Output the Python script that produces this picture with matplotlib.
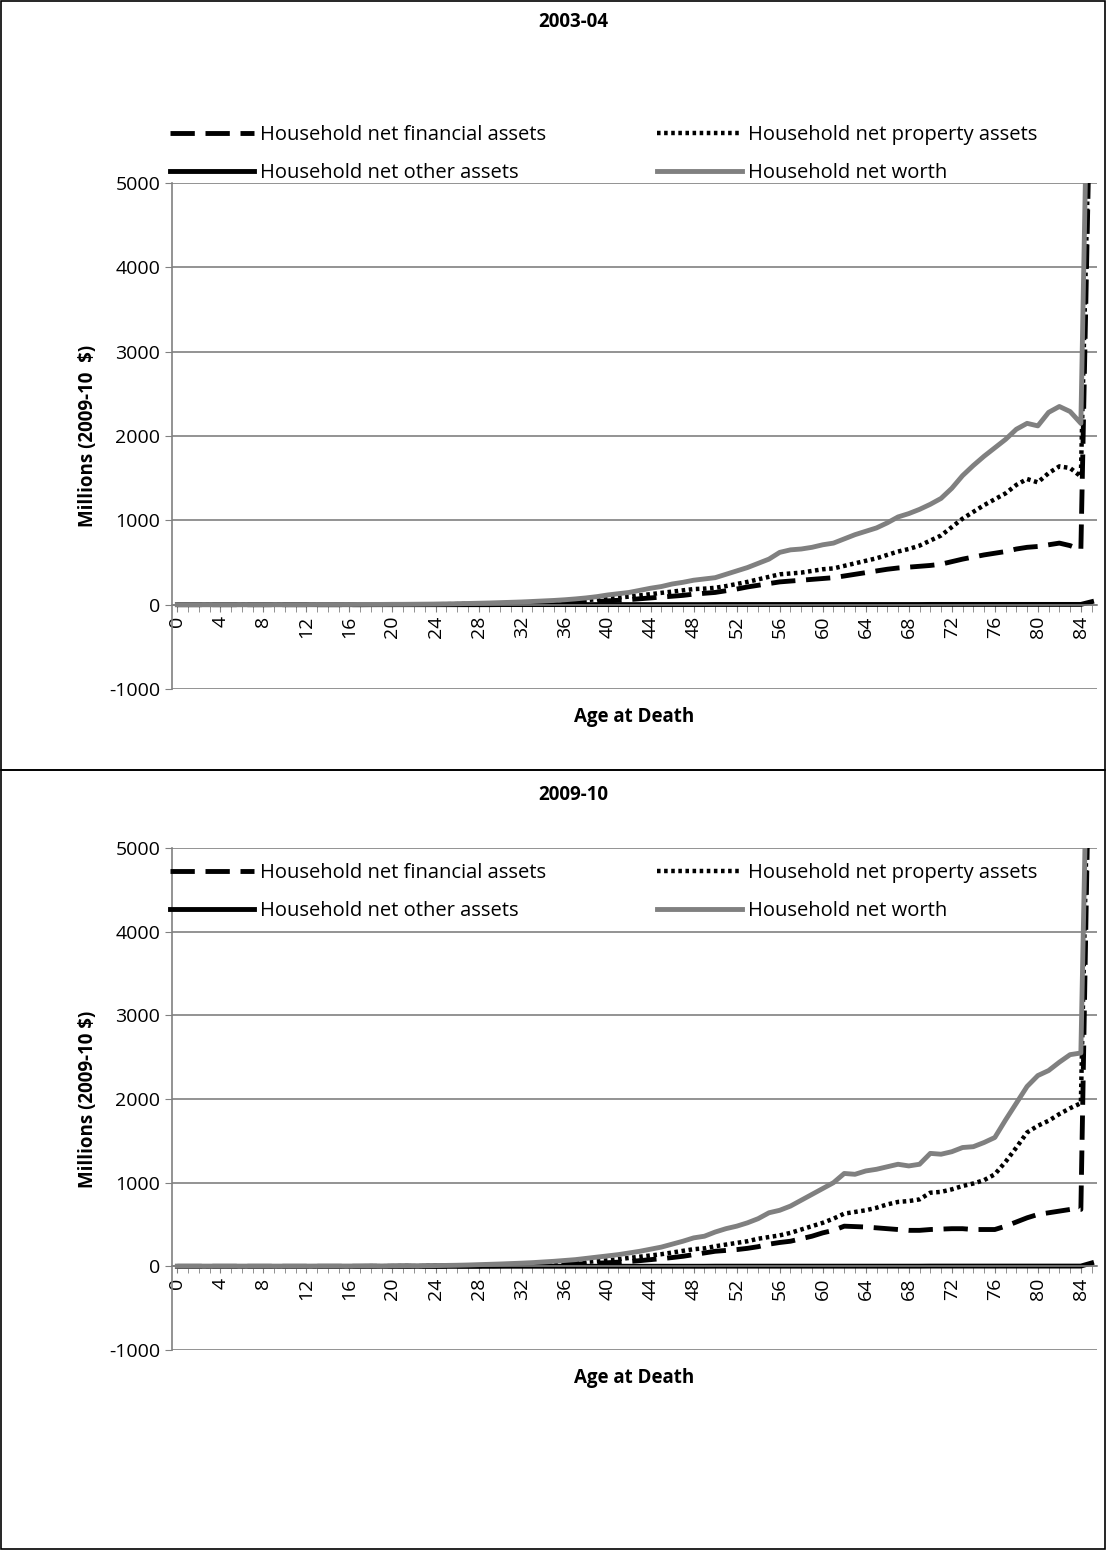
import matplotlib.pyplot as plt
from matplotlib.patches import Rectangle
from matplotlib.ticker import MultipleLocator

plt.rcParams['font.family'] = ['Open Sans', 'DejaVu Sans']
plt.rcParams['axes.unicode_minus'] = False

ages = list(range(86))
tick_labels = [str(a) for a in range(0, 85, 4)]

# 2003-04 values (millions, 2009-10 $)
fin_0304 = [0]*10 + [0, 0, 0, 0, 0, 0, 0, 0, 1, 1,
            1, 2, 2, 2, 3, 3, 4, 5, 6, 7, 8, 10, 12, 14, 17, 20,
            24, 28, 32, 38, 45, 52, 60, 70, 80, 90, 100, 110,
            125, 135, 145, 165, 185, 210, 230, 250, 270, 280, 290, 300,
            310, 320, 340, 360, 380, 400, 420, 435, 445, 455, 465, 480,
            510, 540, 565, 590, 610, 630, 660, 680,
            690, 710, 730, 700, 650, 7000]
prop_0304 = [0]*10 + [0, 0, 0, 1, 1, 1, 1, 1, 2, 2,
             2, 3, 3, 4, 5, 6, 7, 9, 11, 13, 15, 18, 21, 25, 29, 34,
             40, 46, 54, 64, 75, 85, 95, 110, 125, 140, 155, 170,
             185, 190, 200, 220, 245, 270, 300, 330, 360, 370, 380, 400,
             420, 430, 460, 490, 520, 550, 590, 630, 660, 700, 760, 820,
             920, 1020, 1100, 1180, 1250, 1320, 1420, 1490,
             1450, 1560, 1640, 1620, 1520, 7000]
other_0304 = [0]*30 + [1]*20 + [2]*20 + [3]*15 + [35]
nw_0304 = [1]*13 + [2, 2, 2, 2, 3, 3, 3,
           4, 4, 5, 6, 7, 9, 11, 14, 17, 20, 24, 28, 32, 38, 44, 50,
           58, 68, 80, 95, 115, 130, 145, 170, 195, 215, 245, 265,
           290, 305, 320, 360, 400, 440, 490, 540, 620, 650, 660, 680,
           710, 730, 780, 830, 870, 910, 970, 1040, 1080, 1130, 1190, 1260,
           1380, 1530, 1650, 1760, 1860, 1960, 2080, 2150,
           2120, 2280, 2350, 2290, 2150, 9000]

# 2009-10 values
fin_0910 = [0]*10 + [0, 0, 0, 0, 0, 0, 0, 0, 1, 1,
            1, 2, 2, 2, 3, 3, 4, 5, 6, 7, 8, 10, 12, 14, 16, 19,
            23, 27, 32, 37, 43, 50, 58, 68, 80, 92, 105, 120,
            140, 160, 180, 190, 200, 215, 235, 265, 285, 300, 330, 360,
            400, 430, 480, 475, 470, 460, 450, 440, 430, 430, 440, 445,
            450, 450, 440, 440, 440, 480, 530, 580,
            620, 640, 660, 680, 680, 8000]
prop_0910 = [0]*10 + [0, 0, 0, 1, 1, 1, 1, 1, 2, 2,
             2, 3, 3, 4, 5, 6, 7, 8, 9, 10, 12, 15, 18, 22, 26, 31,
             37, 44, 52, 62, 72, 85, 100, 115, 130, 145, 165, 185,
             205, 215, 240, 260, 280, 300, 330, 350, 370, 400, 440, 480,
             520, 570, 630, 650, 670, 700, 740, 770, 780, 800, 880, 890,
             920, 960, 990, 1030, 1100, 1250, 1420, 1600,
             1680, 1740, 1820, 1890, 1950, 8000]
other_0910 = [0]*30 + [1]*20 + [2]*20 + [3]*15 + [40]
nw_0910 = [1]*13 + [2, 2, 2, 2, 3, 3, 3,
           4, 5, 6, 7, 9, 11, 13, 16, 20, 24, 28, 33, 38, 44, 52, 60,
           70, 80, 95, 110, 125, 140, 160, 180, 205, 230, 265, 300,
           340, 360, 410, 450, 480, 520, 570, 640, 670, 720, 790, 860,
           930, 1000, 1110, 1100, 1140, 1160, 1190, 1220, 1200, 1220, 1350, 1340,
           1370, 1420, 1430, 1480, 1540, 1750, 1950, 2150,
           2280, 2340, 2440, 2530, 2550, 9000]

panels = [
    ('2003-04', 'Millions (2009-10  $)', fin_0304, prop_0304, other_0304, nw_0304),
    ('2009-10', 'Millions (2009-10 $)', fin_0910, prop_0910, other_0910, nw_0910),
]

W, H = 1107, 1550
fig = plt.figure(figsize=(W / 100, H / 100), dpi=100)

# panel geometry in pixels: (box top, box bottom, axes top, axes bottom, title y, legend y)
geom = [(1, 770, 183, 689, 22, 154), (770, 1549, 848, 1350, 795, 892)]

gray = '#808080'
fs = 14
for (title, ylab, fin, prop, oth, nw), (bt, bb, at, ab, ty, ly) in zip(panels, geom):
    fig.add_artist(Rectangle((1 / W, 1 - bb / H), (W - 3) / W, (bb - bt) / H,
                             transform=fig.transFigure, fill=False,
                             edgecolor='black', lw=1.2))
    ax = fig.add_axes([172 / W, 1 - ab / H, 925 / W, (ab - at) / H])
    l1, = ax.plot(ages, fin, color='black', lw=3.5, dashes=(5, 2.2),
                  label='Household net financial assets')
    l2, = ax.plot(ages, prop, color='black', lw=3.2, dashes=(0.8, 0.8),
                  label='Household net property assets')
    l3, = ax.plot(ages, oth, color='black', lw=3.5,
                  label='Household net other assets')
    l4, = ax.plot(ages, nw, color=gray, lw=3.5, label='Household net worth')

    for s in ['top', 'right']:
        ax.spines[s].set_visible(False)
    ax.spines['bottom'].set_position(('data', 0))
    ax.spines['bottom'].set_color(gray)
    ax.spines['left'].set_color(gray)
    ax.spines['bottom'].set_linewidth(1.2)
    ax.spines['left'].set_linewidth(1.2)

    ax.set_xlim(-0.5, 85.5)
    ax.set_ylim(-1000, 5000)
    ax.set_yticks(range(-1000, 5001, 1000))
    ax.grid(axis='y', color=gray, lw=1.2)
    ax.set_axisbelow(True)
    ax.set_xticks(range(0, 85, 4))
    ax.set_xticklabels(tick_labels, rotation=90, fontsize=fs)
    ax.xaxis.set_minor_locator(MultipleLocator(1))
    ax.tick_params(axis='x', which='both', length=5, color=gray, pad=3,
                   labelsize=fs, labelrotation=90)
    ax.tick_params(axis='y', length=5, color=gray, labelsize=fs)
    ax.set_ylabel(ylab, fontsize=13.5, fontweight='bold', labelpad=8)
    ax.text(0.5, -0.055, 'Age at Death', transform=ax.transAxes, ha='center',
            va='center', fontsize=13.5, fontweight='bold')

    fig.text(0.5 + 20 / W, 1 - ty / H, title, ha='center', va='center',
             fontsize=13.5, fontweight='bold')
    fig.legend(handles=[l1, l3, l2, l4], loc='center', ncol=2,
               bbox_to_anchor=(0.545, 1 - ly / H), frameon=False, fontsize=14.5,
               handlelength=4.2, columnspacing=5.5, handletextpad=0.3,
               labelspacing=0.9)

fig.savefig('out.png', dpi=100)
